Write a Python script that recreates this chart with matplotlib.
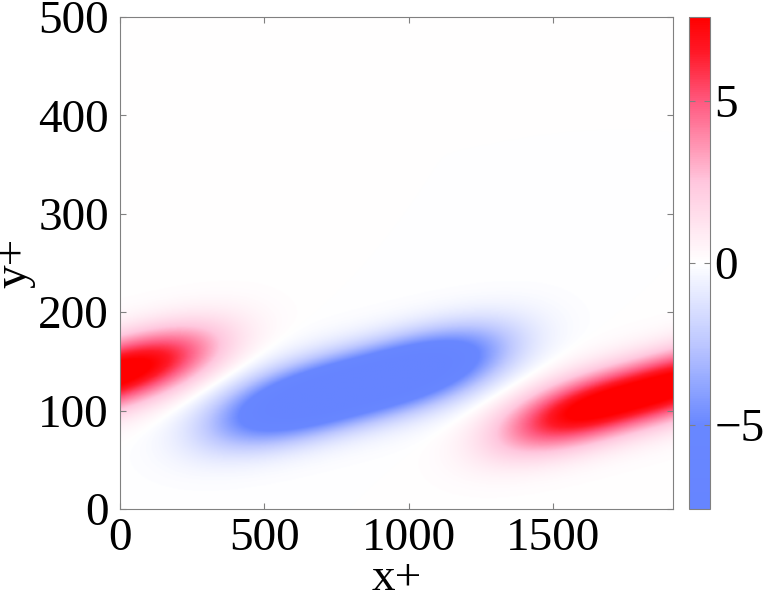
import numpy as np
import matplotlib
matplotlib.use("Agg")
import matplotlib.pyplot as plt
from matplotlib.colors import LinearSegmentedColormap

# Domaine
domain_x = 1916.0
domain_y = 500.0

# Structures (ellipses inclinées) :
# centre, amplitude, demi-longueur, demi-largeur, pente de l'axe, exposant le long de l'axe
blob_x = [-131.0, 828.0, 1785.0]
blob_y = [128.0, 125.0, 115.0]
blob_amp = [8.8, -10.0, 8.8]
blob_len = [445.0, 470.0, 445.0]
blob_wid = [34.0, 35.0, 34.0]
blob_slope = [0.08, 0.075, 0.08]
blob_power = [3.0, 3.0, 3.0]

x_ticks = [0, 500, 1000, 1500]
y_ticks = [0, 100, 200, 300, 400, 500]
cbar_ticks = [-5, 0, 5]
clim = 7.6

cmap_values = [-7.6, -5.0, -2.5, 0.0, 2.5, 5.0, 6.5, 7.6]
cmap_colors = [
    (0.40, 0.52, 1.00),
    (0.41, 0.53, 1.00),
    (0.74, 0.78, 1.00),
    (1.00, 1.00, 1.00),
    (1.00, 0.78, 0.87),
    (1.00, 0.35, 0.50),
    (1.00, 0.10, 0.16),
    (1.00, 0.00, 0.00),
]

plt.rcParams['font.family'] = ['Liberation Serif', 'DejaVu Serif']

x = np.linspace(0, domain_x, 800)
y = np.linspace(0, domain_y, 600)
X, Y = np.meshgrid(x, y)
Z = np.zeros_like(X)
for x0, y0, amp, a, b, s, p in zip(blob_x, blob_y, blob_amp, blob_len,
                                   blob_wid, blob_slope, blob_power):
    u = (X - x0) / a
    v = ((Y - y0) - s * (X - x0)) / b
    Z += amp * np.exp(-(np.abs(u) ** p + v ** 2))

pos = [(v - cmap_values[0]) / (cmap_values[-1] - cmap_values[0]) for v in cmap_values]
cmap = LinearSegmentedColormap.from_list("bwr_custom", list(zip(pos, cmap_colors)))

fig = plt.figure(figsize=(7.63, 5.96), dpi=100)
ax = fig.add_axes([120 / 763, 87 / 596, 553 / 763, 492 / 596])
cax = fig.add_axes([689 / 763, 87 / 596, 21 / 763, 492 / 596])

im = ax.imshow(Z, origin='lower', extent=[0, domain_x, 0, domain_y],
               aspect='auto', cmap=cmap, vmin=-clim, vmax=clim,
               interpolation='bilinear')

gray = (0.5, 0.5, 0.5)
ax.set_xlim(0, domain_x)
ax.set_ylim(0, domain_y)
ax.set_xticks(x_ticks)
ax.set_yticks(y_ticks)
ax.tick_params(direction='in', length=4, color=gray, labelsize=34,
               top=True, right=True, pad=8)
ax.tick_params(axis='x', pad=6)
for sp in ax.spines.values():
    sp.set_color(gray)
ax.set_xlabel("x+", fontsize=34, labelpad=-2)
ax.set_ylabel("y+", fontsize=34, labelpad=2)

cb = fig.colorbar(im, cax=cax, ticks=cbar_ticks)
cb.outline.set_edgecolor(gray)
cax.tick_params(direction='in', length=4, color=gray, labelsize=34,
                left=True, right=True, pad=3)

fig.savefig("out.png", dpi=100)
